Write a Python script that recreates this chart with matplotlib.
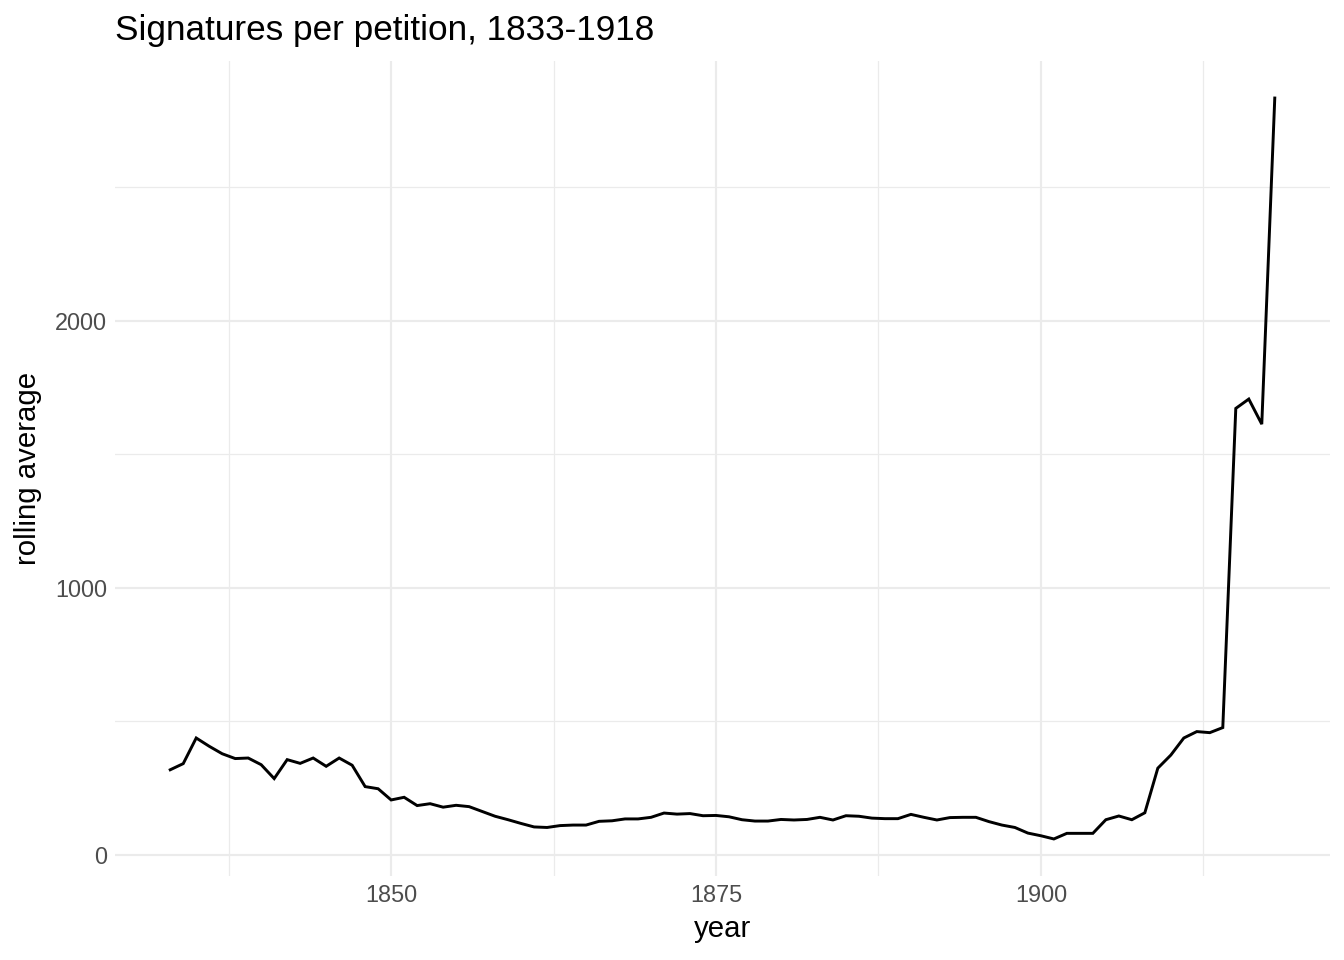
import matplotlib

matplotlib.use("Agg")
import matplotlib.pyplot as plt
from matplotlib.ticker import FixedLocator

plt.rcParams["font.family"] = ["Liberation Sans", "DejaVu Sans"]

# Rolling average of signatures per petition
years = list(range(1833, 1919))
rolling_avg = [
    318, 341, 437, 406, 378, 360, 362, 337, 285, 356,
    342, 362, 331, 362, 335, 255, 247, 205, 215, 184,
    191, 178, 185, 180, 162, 144, 131, 117, 104, 102,
    109, 111, 111, 125, 127, 134, 134, 140, 156, 152,
    154, 146, 147, 142, 131, 126, 126, 132, 130, 132,
    140, 130, 146, 144, 137, 135, 135, 151, 140, 130,
    139, 140, 140, 124, 111, 102, 81, 71, 59, 80,
    80, 80, 131, 145, 131, 157, 324, 373, 437, 461,
    457, 476, 1671, 1706, 1612, 2833,
]

x_major = [1850, 1875, 1900]
x_minor = [1837.5, 1862.5, 1887.5, 1912.5]
y_major = [0, 1000, 2000]
y_minor = [500, 1500, 2500]

grid_col = "#EBEBEB"

fig = plt.figure(figsize=(7, 5), dpi=192)
ax = fig.add_axes([115 / 1344, 84 / 960, 1215 / 1344, 815 / 960])

ax.plot(years, rolling_avg, color="black", linewidth=1.1, solid_joinstyle="miter", zorder=3)

# ggplot-style 5% expansion
xr = max(years) - min(years)
yr = max(rolling_avg) - min(rolling_avg)
ax.set_xlim(min(years) - 0.05 * xr, max(years) + 0.05 * xr)
ax.set_ylim(min(rolling_avg) - 0.05 * yr, max(rolling_avg) + 0.05 * yr)

ax.xaxis.set_major_locator(FixedLocator(x_major))
ax.xaxis.set_minor_locator(FixedLocator(x_minor))
ax.yaxis.set_major_locator(FixedLocator(y_major))
ax.yaxis.set_minor_locator(FixedLocator(y_minor))

ax.grid(which="major", color=grid_col, linewidth=0.8)
ax.grid(which="minor", color=grid_col, linewidth=0.45)
ax.set_axisbelow(True)

for s in ax.spines.values():
    s.set_visible(False)
ax.tick_params(which="both", length=0)
ax.tick_params(axis="both", labelsize=8.8, labelcolor="#4D4D4D", pad=3)

ax.set_xlabel("year", fontsize=11, labelpad=3)
ax.set_ylabel("rolling average", fontsize=11, labelpad=5)

fig.text(115 / 1344, 1 - 40 / 960, "Signatures per petition, 1833-1918",
         fontsize=13.2, ha="left", va="baseline")

fig.savefig("out.png", dpi=192)
